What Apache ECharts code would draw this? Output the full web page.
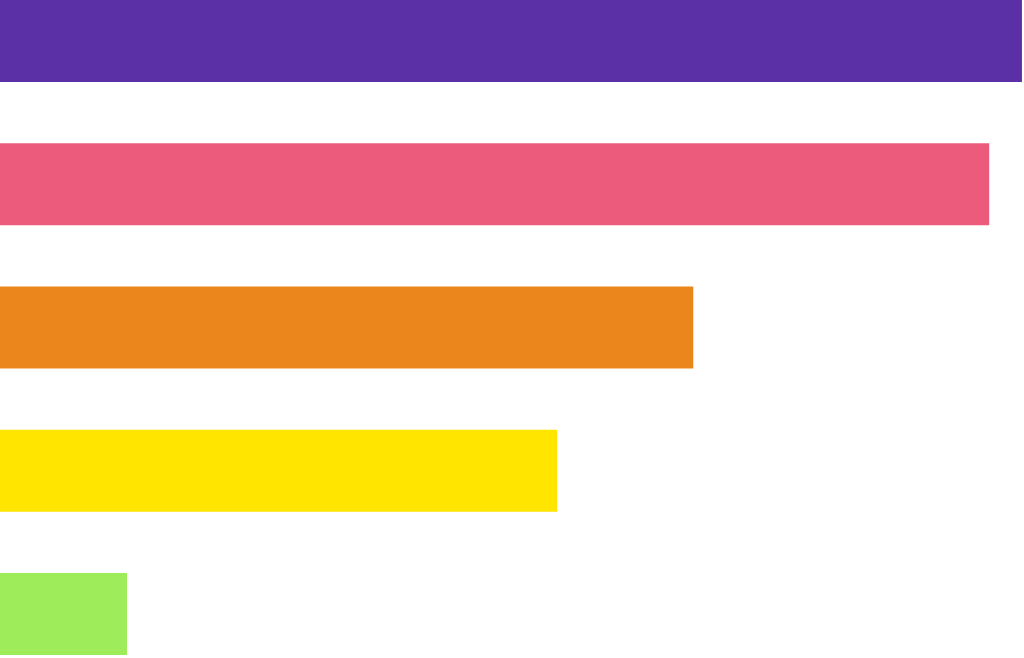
<!DOCTYPE html>
<html>
<head>
<meta charset="utf-8">
<title>Bars</title>
<script src="https://cdn.jsdelivr.net/npm/echarts@6/dist/echarts.min.js"></script>
<style>
    html, body { margin: 0; padding: 0; background: #ffffff; }
    #chart { width: 1024px; height: 658px; }
</style>
</head>
<body>
<div id="chart"></div>
<script>
    // 数据（从图中估读，横轴 0-100）
    const categories = ['A', 'B', 'C', 'D', 'E'];
    const values = [99.8, 96.6, 67.7, 54.4, 12.4];
    const colors = ['#5b30a7', '#ec5b7c', '#ea861c', '#ffe500', '#9eec5a'];

    const chart = echarts.init(document.getElementById('chart'));

    chart.setOption({
        backgroundColor: '#ffffff',
        animation: false,
        // 首尾柱中心落在网格上下边缘
        grid: { left: 0, right: 0, top: 41, bottom: 44, containLabel: false },
        xAxis: {
            type: 'value',
            min: 0,
            max: 100,
            show: false
        },
        yAxis: {
            type: 'category',
            inverse: true,
            boundaryGap: false,
            data: categories,
            show: false
        },
        series: [{
            type: 'bar',
            barWidth: 82,
            data: values.map((v, i) => ({ value: v, itemStyle: { color: colors[i] } }))
        }]
    });
</script>
</body>
</html>
